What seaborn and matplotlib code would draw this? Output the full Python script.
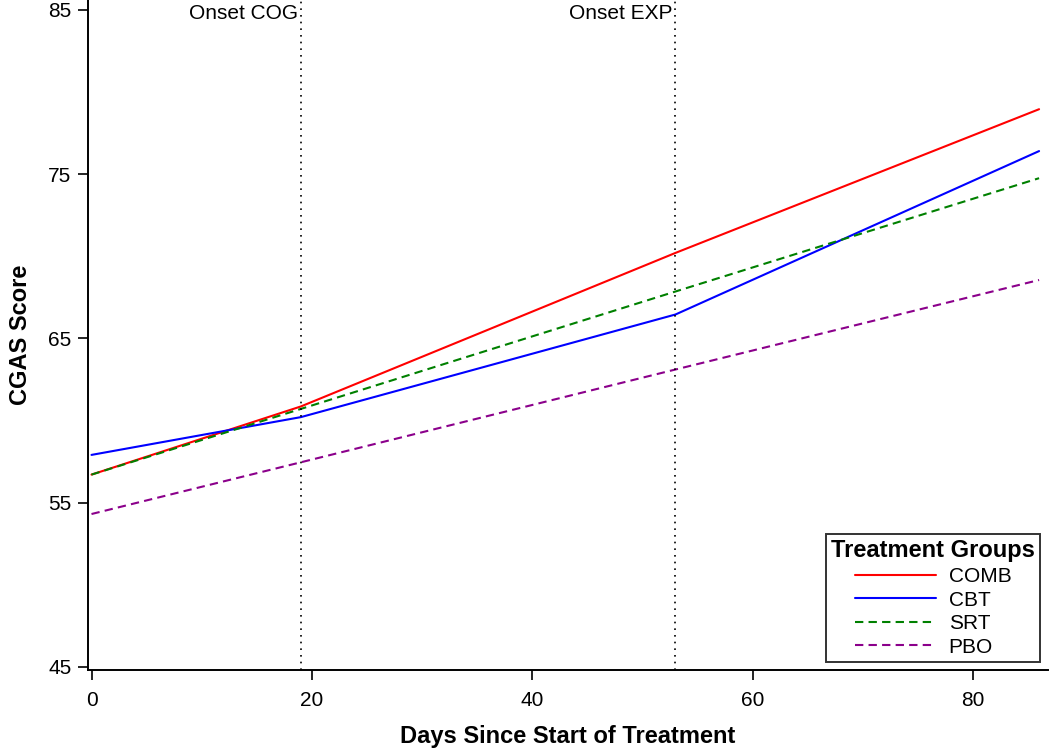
import matplotlib.pyplot as plt
import seaborn as sns
import pandas as pd

# Data
days = [0, 19, 53, 86]
comb = [56.7, 60.85, 70.2, 78.95]
cbt = [57.9, 60.2, 66.45, 76.4]
srt = [56.7, 60.7, 67.85, 74.75]
pbo = [54.3, 57.45, 63.1, 68.55]
groups = ["COMB", "CBT", "SRT", "PBO"]
onsets = [19, 53]
onset_labels = ["Onset COG", "Onset EXP"]

sns.set_theme(style="ticks", rc={"text.color": "black", "axes.labelcolor": "black",
                                 "xtick.color": "black", "ytick.color": "black"})
plt.rcParams['font.family'] = ['Liberation Sans', 'DejaVu Sans']

df = pd.DataFrame({
    "day": days * 4,
    "score": comb + cbt + srt + pbo,
    "group": [g for g in groups for _ in days],
})

colors = {"COMB": "#ff0000", "CBT": "#0000ff", "SRT": "#008000", "PBO": "#8b008b"}
dashes = {"COMB": "", "CBT": "", "SRT": (4, 2.5), "PBO": (4, 2.5)}

fig = plt.figure(figsize=(10.5, 7.52), dpi=100)
ax = fig.add_axes([0.084, 0.109, 0.914, 0.891])

sns.lineplot(data=df, x="day", y="score", hue="group", style="group",
             palette=colors, dashes=dashes, hue_order=groups, style_order=groups,
             linewidth=1.5, ax=ax)

for x, lab in zip(onsets, onset_labels):
    ax.axvline(x, color="black", linestyle=(0, (1, 3)), linewidth=1.2)
    ax.text(x - 0.3, 84.75, lab, ha="right", va="center", fontsize=15)

ax.set_xlim(-0.3, 86.8)
ax.set_ylim(44.8, 85.6)
ax.set_xticks([0, 20, 40, 60, 80])
ax.set_yticks([45, 55, 65, 75, 85])
ax.tick_params(labelsize=15, direction="out", length=7, width=1.2)
ax.tick_params(axis="x", pad=8)
ax.tick_params(axis="y", pad=5)
for s in ["top", "right"]:
    ax.spines[s].set_visible(False)
for s in ["left", "bottom"]:
    ax.spines[s].set_linewidth(1.4)
    ax.spines[s].set_color("black")

ax.set_xlabel("Days Since Start of Treatment", fontsize=17, fontweight="bold", labelpad=11)
ax.set_ylabel("CGAS Score", fontsize=17, fontweight="bold", labelpad=12)

leg = ax.legend(title="Treatment Groups", loc="lower right", fontsize=15,
                title_fontproperties={"weight": "bold", "size": 17},
                frameon=True, fancybox=False, edgecolor="black",
                handlelength=3.9, handletextpad=0.6, borderaxespad=0,
                labelspacing=0.22, borderpad=0.25,
                bbox_to_anchor=(0.992, 0.012))
leg.get_frame().set_linewidth(1.4)

fig.savefig("out.png", dpi=100)
